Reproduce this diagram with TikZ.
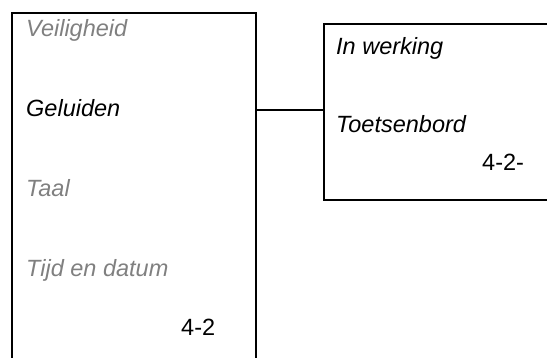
\documentclass[tikz,border=0pt]{standalone}
\usepackage{fontspec}
\setmainfont{Liberation Sans}
\definecolor{greytxt}{HTML}{808080}
\tikzset{
  panel/.style={draw=black, line width=1.8pt, rectangle, inner sep=0pt},
  menuitem/.style={anchor=base west, inner sep=0pt, font=\fontsize{23.5}{28}\selectfont\itshape},
  pagenum/.style={anchor=base west, inner sep=0pt, font=\fontsize{23.5}{28}\selectfont},
  link/.style={draw=black, line width=1.8pt}
}
\begin{document}
\begin{tikzpicture}[x=1pt,y=-1pt]
\useasboundingbox (0,0) rectangle (547,358);
\clip (0,0) rectangle (547,358);
\node[panel, anchor=north west, minimum width=244pt, minimum height=380pt] (lbox) at (11,12) {};
\node[panel, anchor=north west, minimum width=250pt, minimum height=176.5pt] (rbox) at (323,22.8) {};
\coordinate (lvl) at (0,110);
\draw[link] (lbox.east |- lvl) -- (rbox.west |- lvl);
\node[menuitem, text=greytxt] (veil) at (26,37) {Veiligheid};
\node[menuitem, text=black] (gel) at (26,117) {Geluiden};
\node[menuitem, text=greytxt] (taal) at (26,196.5) {Taal};
\node[menuitem, text=greytxt] (tijd) at (26,276.5) {Tijd en datum};
\node[pagenum] (pl) at (181,336) {4-2};
\node[menuitem, text=black] (inw) at (336,55) {In werking};
\node[menuitem, text=black] (toets) at (336,133) {Toetsenbord};
\node[pagenum] (pr) at (482,171) {4-2-};
\end{tikzpicture}
\end{document}
